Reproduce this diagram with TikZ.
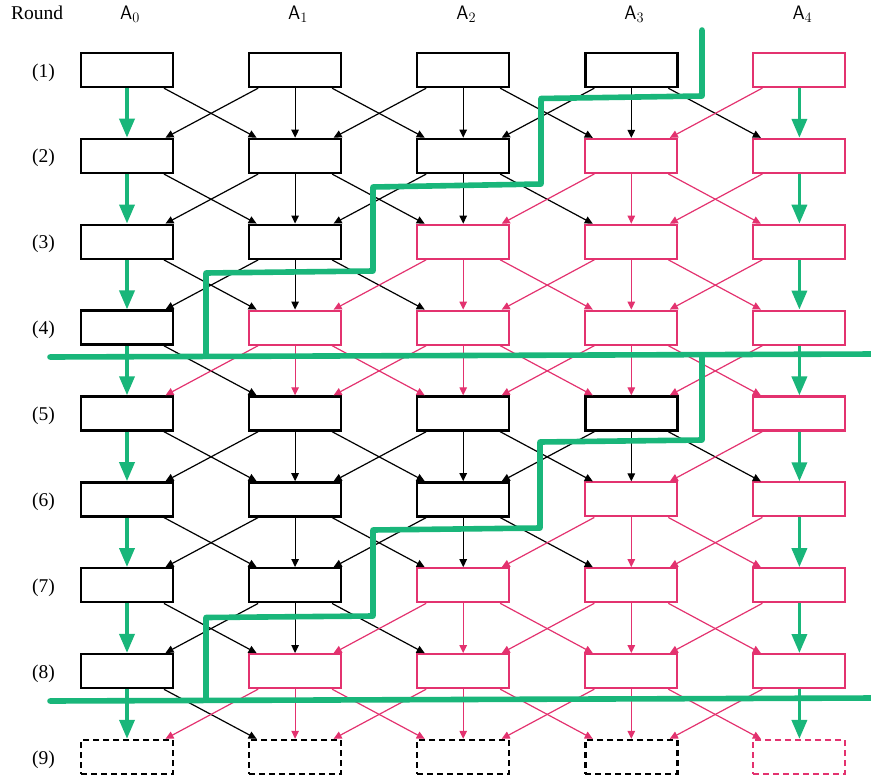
\documentclass[tikz,border=0pt]{standalone}
\usepackage{fontspec}
\newfontfamily\timesf{Liberation Serif}
\usetikzlibrary{arrows.meta}
\definecolor{pinkc}{HTML}{E3326F}
\definecolor{greenc}{HTML}{19B67A}
\begin{document}
\begin{tikzpicture}[x=1pt,y=-1pt,
  box/.style={rectangle, minimum width=92pt, minimum height=34pt, inner sep=0pt, fill=white},
  arr/.style={line width=1.2pt, -{Triangle[length=8pt,width=7.5pt]}},
  garr/.style={draw=greenc, color=greenc, line width=3.6pt, -{Triangle[length=19pt,width=15pt]}},
  cut/.style={draw=greenc, line width=5.6pt, line cap=round, line join=round},
  lbl/.style={font=\timesf\fontsize{19.5}{22}\selectfont, inner sep=0pt},
  hdr/.style={font=\fontsize{19.5}{22}\selectfont, inner sep=0pt, anchor=base},
]
\useasboundingbox (0,0) rectangle (871,782);
\node[lbl, anchor=base west] (round) at (11,19.3) {Round};
\foreach \c in {0,...,4} {
  \node[hdr] (h\c) at ({127+168.1*\c+3},19.3) {\textsf{A}$_{\c}$};
}
\foreach \r in {1,...,9} {
  \pgfmathsetmacro{\yy}{70+85.875*(\r-1)}
  \node[lbl, anchor=base] (l\r) at (43.5,\yy+7) {(\r)};
  \pgfmathtruncatemacro{\k}{mod(\r-1,4)+1}
  \foreach \c in {0,...,4} {
    \pgfmathtruncatemacro{\p}{(\c>4-\k) ? 1 : 0}
    \ifnum\p=1 \def\cc{pinkc}\def\lw{2.1pt}\else\def\cc{black}\def\lw{2.4pt}\fi
    \ifnum\r=9
      \node[box, draw=\cc, line width=\lw, dash pattern=on 6pt off 4pt] (b\r-\c) at ({127+168.1*\c},\yy) {};
    \else
      \node[box, draw=\cc, line width=\lw] (b\r-\c) at ({127+168.1*\c},\yy) {};
    \fi
  }
}
\foreach \r in {1,...,8} {
  \pgfmathtruncatemacro{\n}{\r+1}
  \pgfmathtruncatemacro{\k}{mod(\r-1,4)+1}
  \foreach \c in {0,...,4} {
    \pgfmathtruncatemacro{\p}{(\c>4-\k) ? 1 : 0}
    \ifnum\p=1 \def\cc{pinkc}\else\def\cc{black}\fi
    \ifnum\c<4
      \pgfmathtruncatemacro{\cr}{\c+1}
      \draw[arr, color=\cc] ([xshift=37pt]b\r-\c.south) -- ([xshift=-38.5pt]b\n-\cr.north);
    \fi
    \ifnum\c>0
      \pgfmathtruncatemacro{\cl}{\c-1}
      \draw[arr, color=\cc] ([xshift=-37pt]b\r-\c.south) -- ([xshift=38.5pt]b\n-\cl.north);
    \fi
    \ifnum\c=0 \def\g{1}\else\ifnum\c=4 \def\g{1}\else\def\g{0}\fi\fi
    \ifnum\g=1
      \draw[garr] (b\r-\c.south) -- (b\n-\c.north);
    \else
      \draw[arr, color=\cc] (b\r-\c.south) -- (b\n-\c.north);
    \fi
  }
}
% cut lines
\draw[cut] (702,30) -- (702,96) -- (541,98.5) -- (541,184) -- (373,187) -- (373,271) -- (206,273) -- (206,356);
\draw[cut] (50,357) -- (875,354);
\draw[cut] (702,355) -- (702,440) -- (540,442) -- (540,528) -- (373,530) -- (373,616) -- (206,617.5) -- (206,700);
\draw[cut] (50,701) -- (875,698);
\end{tikzpicture}
\end{document}
